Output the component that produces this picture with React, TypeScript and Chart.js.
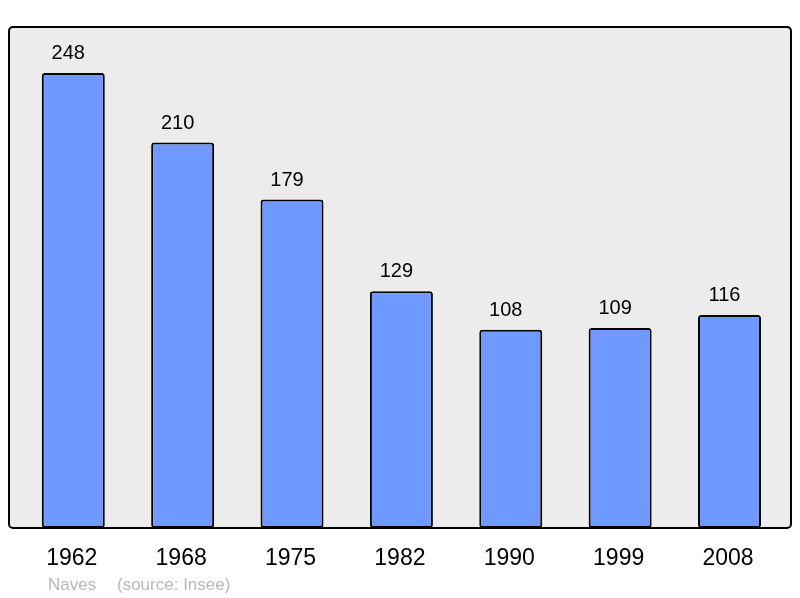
import { useEffect, useRef } from "react";
import { Chart, registerables } from "chart.js";

Chart.register(...registerables);

const years = ["1962", "1968", "1975", "1982", "1990", "1999", "2008"];
const population = [248, 210, 179, 129, 108, 109, 116];
const townName = "Naves";
const sourceNote = "(source: Insee)";

const FONT = "'Liberation Sans', Arial, sans-serif";

// grey framed panel behind the bars
const panelPlugin = {
  id: "panel",
  beforeDraw(chart: Chart) {
    const { ctx, chartArea } = chart;
    ctx.save();
    ctx.beginPath();
    ctx.roundRect(9, chartArea.top, 782, chartArea.bottom - chartArea.top, 4);
    ctx.fillStyle = "#ececec";
    ctx.fill();
    ctx.restore();
  },
  afterDatasetsDraw(chart: Chart) {
    const { ctx, chartArea } = chart;
    ctx.save();
    ctx.beginPath();
    ctx.roundRect(9, chartArea.top, 782, chartArea.bottom - chartArea.top, 4);
    ctx.lineWidth = 2;
    ctx.strokeStyle = "#000";
    ctx.stroke();
    ctx.restore();
  },
};

// value labels, year labels and footer
const labelsPlugin = {
  id: "labels",
  afterDraw(chart: Chart) {
    const { ctx, chartArea } = chart;
    const meta = chart.getDatasetMeta(0);
    ctx.save();
    ctx.textAlign = "center";
    ctx.textBaseline = "alphabetic";
    ctx.fillStyle = "#000";
    meta.data.forEach((bar: any, i) => {
      ctx.font = `20px ${FONT}`;
      ctx.fillText(String(population[i]), bar.x - 5, bar.y - 14);
      ctx.font = `23px ${FONT}`;
      ctx.fillText(years[i], bar.x - 1.5, chartArea.bottom + 37);
    });
    ctx.textAlign = "left";
    ctx.font = `17px ${FONT}`;
    ctx.fillStyle = "#b8b8b8";
    ctx.fillText(townName, 48, chartArea.bottom + 62);
    ctx.fillText(sourceNote, 117, chartArea.bottom + 62);
    ctx.restore();
  },
};

const App = () => {
  const canvasRef = useRef<HTMLCanvasElement>(null);
  const chartRef = useRef<Chart | null>(null);

  useEffect(() => {
    if (!canvasRef.current) return;
    if (chartRef.current) chartRef.current.destroy();

    chartRef.current = new Chart(canvasRef.current, {
      type: "bar",
      data: {
        labels: years,
        datasets: [
          {
            data: population,
            backgroundColor: "#7099ff",
            borderColor: "#000",
            borderWidth: 2,
            borderRadius: 3,
            borderSkipped: false,
            categoryPercentage: 1,
            barPercentage: 0.576,
          },
        ],
      },
      options: {
        responsive: true,
        maintainAspectRatio: false,
        animation: false,
        layout: { padding: { left: 18.6, right: 15.8, top: 27, bottom: 70 } },
        plugins: {
          legend: { display: false },
          tooltip: { enabled: false },
        },
        scales: {
          x: { display: false },
          y: { display: false, min: 0, max: 273 },
        },
      },
      plugins: [panelPlugin, labelsPlugin],
    });

    return () => {
      if (chartRef.current) {
        chartRef.current.destroy();
        chartRef.current = null;
      }
    };
  }, []);

  return (
    <div style={{ position: "absolute", left: 0, top: 0, width: 800, height: 598, background: "#fff" }}>
      <canvas ref={canvasRef} />
    </div>
  );
};

export default App;
